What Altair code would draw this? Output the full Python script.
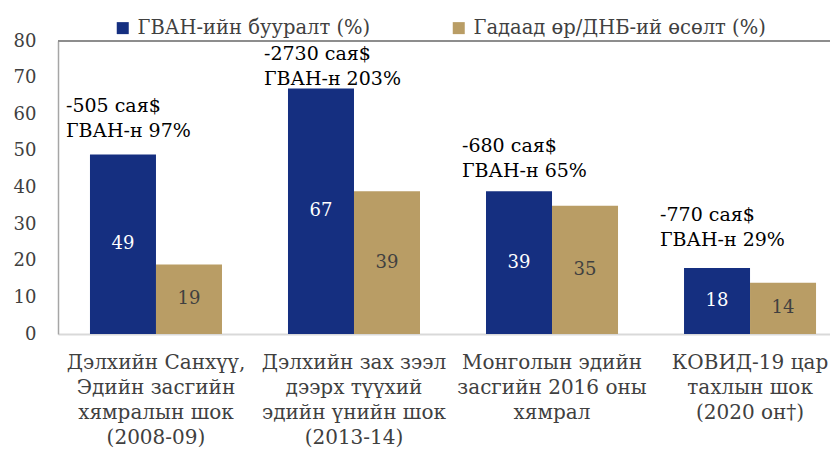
import altair as alt
import pandas as pd

categories = [
    "Дэлхийн Санхүү,|Эдийн засгийн|хямралын шок|(2008-09)",
    "Дэлхийн зах зээл|дээрх түүхий|эдийн үнийн шок|(2013-14)",
    "Монголын эдийн|засгийн 2016 оны|хямрал",
    "КОВИД-19 цар|тахлын шок|(2020 он†)",
]
series = ["ГВАН-ийн бууралт (%)", "Гадаад өр/ДНБ-ий өсөлт (%)"]
fdi_drop = [49, 67, 39, 18]
debt_rise = [19, 39, 35, 14]
note_usd = ["-505 сая$", "-2730 сая$", "-680 сая$", "-770 сая$"]
note_pct = ["ГВАН-н 97%", "ГВАН-н 203%", "ГВАН-н 65%", "ГВАН-н 29%"]
note_level = [60.6, 74.8, 49.7, 30.9]
y_ticks = [0, 10, 20, 30, 40, 50, 60, 70, 80]

colors = ["#152F80", "#B99D65"]
label_colors = ["#FFFFFF", "#404040"]
FONT = "DejaVu Serif"

rows = []
for i, c in enumerate(categories):
    rows.append({"cat": c, "series": series[0], "value": fdi_drop[i], "mid": fdi_drop[i] / 2})
    rows.append({"cat": c, "series": series[1], "value": debt_rise[i], "mid": debt_rise[i] / 2})
bars_df = pd.DataFrame(rows)

notes_df = pd.DataFrame({
    "cat": categories,
    "note": [a + "\n" + b for a, b in zip(note_usd, note_pct)],
    "level": note_level,
})

x_scale = alt.Scale(domain=categories, paddingInner=1/3, paddingOuter=0.116, align=0.696)
y_scale = alt.Scale(domain=[0, 80], nice=False)

x_enc = alt.X("cat:N", scale=x_scale, sort=categories, title=None,
              axis=alt.Axis(labelAngle=0, labelExpr="split(datum.label, '|')"))
y_enc = alt.Y("value:Q", scale=y_scale, title=None,
              axis=alt.Axis(values=y_ticks, tickCount=len(y_ticks)))
xoff = alt.XOffset("series:N", sort=series, scale=alt.Scale(domain=series, paddingInner=0, paddingOuter=0))

bars = alt.Chart(bars_df).mark_bar().encode(
    x=x_enc,
    xOffset=xoff,
    y=y_enc,
    color=alt.Color("series:N", scale=alt.Scale(domain=series, range=colors), sort=series,
                    legend=alt.Legend(title=None, orient="none", direction="horizontal",
                                      legendX=55, legendY=-23, symbolType="square",
                                      symbolSize=144, symbolStrokeWidth=0, labelFont=FONT,
                                      labelFontSize=19.5, labelColor="#404040", labelOffset=5,
                                      columnPadding=78, padding=0, labelLimit=400)),
)

values_text = alt.Chart(bars_df).mark_text(font=FONT, fontSize=18, baseline="middle").encode(
    x=alt.X("cat:N", scale=x_scale, sort=categories, title=None),
    xOffset=xoff,
    y=alt.Y("mid:Q", scale=y_scale, title=None),
    text=alt.Text("value:Q"),
    color=alt.Color("series:N", scale=alt.Scale(domain=series, range=label_colors), legend=None),
)

notes = alt.Chart(notes_df).mark_text(font=FONT, fontSize=19, align="left", baseline="alphabetic",
                                      lineBreak="\n", lineHeight=25, dx=-90, color="#000000").encode(
    x=alt.X("cat:N", scale=x_scale, sort=categories, title=None),
    y=alt.Y("level:Q", scale=y_scale, title=None),
    text="note:N",
)

top_line = alt.Chart(notes_df).mark_rule(color="#8C8C8C", strokeWidth=1.5).encode(
    y=alt.datum(80, scale=y_scale),
)

chart = alt.layer(bars, values_text, notes, top_line).resolve_scale(color="independent").properties(
    width=772, height=293, autosize="none",
    padding={"left": 50, "top": 33, "right": 0, "bottom": 115},
).configure_view(stroke=None).configure_axisX(
    ticks=False, domainColor="#D9D9D9", domainWidth=2, labelLineHeight=25,
    labelFont=FONT, labelFontSize=20, labelColor="#404040", labelPadding=18, labelLimit=300,
    grid=False,
).configure_axisY(
    grid=False, ticks=False, domainColor="#A6A6A6", domainWidth=1.5, labelFont=FONT,
    labelFontSize=18, labelOverlap=False, labelColor="#404040", labelPadding=22,
)

chart.save("out.html", embed_options={"renderer": "svg", "actions": False})
